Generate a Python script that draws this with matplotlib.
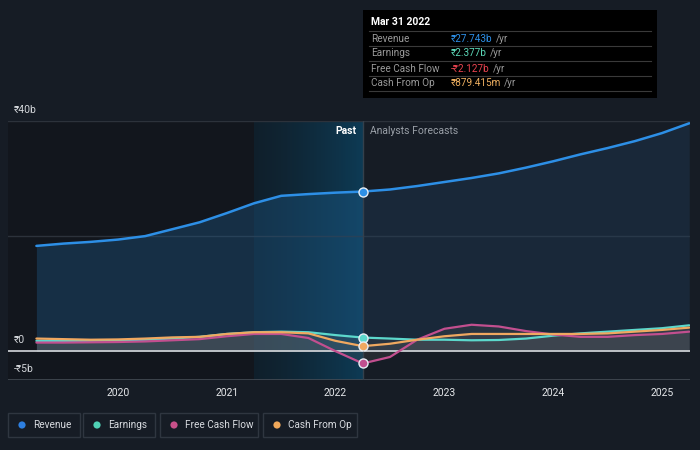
import matplotlib
matplotlib.use("Agg")
import matplotlib.pyplot as plt
import numpy as np
from matplotlib.patches import Rectangle, Circle
from matplotlib.colors import to_rgb

plt.rcParams['font.family'] = ['Roboto', 'DejaVu Sans']

# ---------------- data ----------------
years = [2019.25, 2019.5, 2019.75, 2020.0, 2020.25, 2020.5, 2020.75, 2021.0,
         2021.25, 2021.5, 2021.75, 2022.0, 2022.25, 2022.5, 2022.75, 2023.0,
         2023.25, 2023.5, 2023.75, 2024.0, 2024.25, 2024.5, 2024.75, 2025.0, 2025.25]
revenue = [18.3, 18.7, 19.0, 19.4, 20.0, 21.2, 22.4, 24.0,
           25.7, 27.0, 27.3, 27.55, 27.743, 28.1, 28.7, 29.4,
           30.1, 30.9, 31.9, 33.0, 34.2, 35.3, 36.5, 37.9, 39.6]
earnings = [1.8, 1.8, 1.8, 1.9, 2.0, 2.2, 2.5, 3.0,
            3.3, 3.4, 3.3, 2.8, 2.377, 2.2, 2.0, 2.0,
            1.9, 1.95, 2.2, 2.7, 3.1, 3.4, 3.7, 4.0, 4.5]
fcf = [1.5, 1.5, 1.55, 1.6, 1.7, 1.9, 2.1, 2.6,
       3.0, 3.0, 2.3, 0.0, -2.127, -1.0, 2.0, 3.9,
       4.6, 4.3, 3.5, 2.9, 2.5, 2.5, 2.8, 3.0, 3.4]
cfo = [2.2, 2.1, 2.0, 2.05, 2.2, 2.4, 2.5, 3.0,
       3.3, 3.3, 3.1, 1.8, 0.879, 1.3, 2.0, 2.6,
       3.0, 3.0, 3.0, 3.0, 3.0, 3.1, 3.4, 3.7, 4.1]

xticks = [2020, 2021, 2022, 2023, 2024, 2025]
ytick_vals = [40, 0, -5]
ytick_labels = ['₹40b', '₹0', '-₹5b']
now = 2022.25          # Mar 31 2022
highlight_start = 2021.25

tooltip_title = 'Mar 31 2022'
tooltip_rows = ['Revenue', 'Earnings', 'Free Cash Flow', 'Cash From Op']
tooltip_vals = ['₹27.743b', '₹2.377b', '-₹2.127b', '₹879.415m']
legend_labels = ['Revenue', 'Earnings', 'Free Cash Flow', 'Cash From Op']

# ---------------- style ----------------
BG = '#161c25'
C_REV = '#2d8fe6'
C_EARN = '#5cd8cc'
C_FCF = '#c24f8f'
C_CFO = '#f0a860'
VAL_COLORS = ['#2d8fe6', '#5cd8b8', '#e8434f', '#f0b060']
LEG_COLORS = ['#2d7fe0', '#4fd1b5', '#c8508a', '#f0a85a']

W, H = 700, 450
fig = plt.figure(figsize=(W / 100, H / 100), dpi=100, facecolor=BG)

x0px, x1px, y0px, y1px = 8, 690, 121, 380
ax = fig.add_axes([x0px / W, 1 - y1px / H, (x1px - x0px) / W, (y1px - y0px) / H])
ax.set_facecolor(BG)
px_per_year = 108.8
xmin = 2020 + (x0px - 118) / px_per_year
xmax = 2020 + (x1px - 118) / px_per_year
for s in ax.spines.values():
    s.set_visible(False)
ax.set_xticks([])
ax.set_yticks([])

yrs = np.array(years)
rev = np.array(revenue)

# darker past region
ax.axvspan(xmin, highlight_start, color='#12161d', zorder=0, lw=0)
# gradient highlight for last year (thin spans)
c0 = np.array(to_rgb('#0f1f2b'))
c1 = np.array(to_rgb('#0d3a54'))
n = 60
edges = np.linspace(highlight_start, now, n + 1)
for i in range(n):
    f = (i + 0.5) / n
    ax.axvspan(edges[i], edges[i + 1] + 1e-4, color=tuple(c0 + (c1 - c0) * f ** 1.3),
               lw=0, zorder=0.5)

# gridlines
for v in [40, 20]:
    ax.axhline(v, color='#2c323b', lw=1, zorder=1)
ax.axhline(-5, color='#444b54', lw=1.2, zorder=1)

# revenue area
past = yrs <= now + 1e-9
fut = yrs >= now - 1e-9
ax.fill_between(yrs[past], 0, rev[past], color='#1f5f90', alpha=0.35, lw=0, zorder=2)
ax.fill_between(yrs[fut], 0, rev[fut], color='#22476a', alpha=0.3, lw=0, zorder=2)
ax.plot(yrs, rev, color=C_REV, lw=1.8, zorder=5, solid_capstyle='round')

small = [(earnings, C_EARN), (fcf, C_FCF), (cfo, C_CFO)]
for vals, c in small:
    ax.fill_between(yrs, 0, np.array(vals), color='#6a6a6a', alpha=0.18, lw=0, zorder=3)
ax.axhline(0, color='#d5d8dc', lw=1.2, zorder=4)
for vals, c in small:
    ax.plot(yrs, vals, color=c, lw=1.6, zorder=6, solid_capstyle='round')

ax.axvline(now, color='#34404c', lw=1, zorder=4)

for vals, c in [(revenue, C_REV), (earnings, C_EARN), (fcf, C_FCF), (cfo, C_CFO)]:
    v = np.interp(now, yrs, np.array(vals))
    ax.plot([now], [v], 'o', ms=6.5, mfc=c, mec='#e8eef5', mew=1.0, zorder=8)

ax.text(now - 0.06, 38.2, 'Past', color='#ffffff', fontsize=7.5, ha='right', va='center',
        fontweight='bold', zorder=9)
ax.text(now + 0.07, 38.2, 'Analysts Forecasts', color='#9aa0a8', fontsize=7.5, ha='left',
        va='center', zorder=9)

ax.set_xlim(xmin, xmax)
ax.set_ylim(-5, 40)

# ---------------- overlay in px coords ----------------
ov = fig.add_axes([0, 0, 1, 1], facecolor='none')
ov.set_xlim(0, W)
ov.set_ylim(H, 0)
ov.axis('off')

def px_of_year(y):
    return 118 + (y - 2020) * px_per_year

for t in xticks:
    ov.text(px_of_year(t), 393, str(t), color='#e4e6e9', fontsize=7.5, ha='center', va='center')

ylab_px = {40: 110, 0: 340, -5: 369}
for v, lab in zip(ytick_vals, ytick_labels):
    ov.text(14, ylab_px[v], lab, color='#d4d7db', fontsize=7.5, ha='left', va='center')

# tooltip
ov.add_patch(Rectangle((363, 10), 294, 88, facecolor='#000000', edgecolor='none', zorder=10))
ov.text(371, 22, tooltip_title, color='#ffffff', fontsize=7.5, fontweight='bold',
        ha='left', va='center', zorder=11)
for i, (lab, val, c) in enumerate(zip(tooltip_rows, tooltip_vals, VAL_COLORS)):
    yline = 31 + 15 * i
    ov.plot([369, 651], [yline, yline], color='#3a3a3a', lw=0.8, zorder=11)
    yt = 38.5 + 15 * i
    ov.text(371, yt, lab, color='#9a9a9a', fontsize=7.2, ha='left', va='center', zorder=11)
    t = ov.text(451, yt, val, color=c, fontsize=7.2, ha='left', va='center', zorder=11)
    fig.canvas.draw()
    bb = t.get_window_extent()
    ov.text(bb.x1 + 3, yt, '/yr', color='#9a9a9a', fontsize=7.2, ha='left', va='center', zorder=11)
ov.plot([369, 651], [91, 91], color='#3a3a3a', lw=0.8, zorder=11)

# legend
leg_boxes = [(8, 80), (83, 155), (160, 258), (263, 357)]
for (bx0, bx1), lab, c in zip(leg_boxes, legend_labels, LEG_COLORS):
    ov.add_patch(Rectangle((bx0, 413), bx1 - bx0, 24, facecolor=BG, edgecolor='#2f3640',
                           lw=1, zorder=10))
    ov.add_patch(Circle((bx0 + 14, 425), 3.6, facecolor=c, edgecolor='none', zorder=11))
    ov.text(bx0 + 25, 425, lab, color='#d8dbe0', fontsize=7.2, ha='left', va='center', zorder=11)

fig.savefig('out.png', dpi=100, facecolor=BG)
